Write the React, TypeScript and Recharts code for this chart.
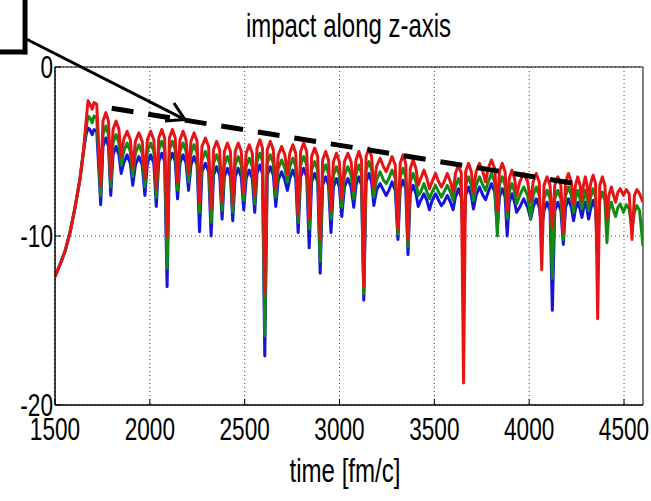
import React from 'react';
import { LineChart, Line, XAxis, YAxis, CartesianGrid, ReferenceLine, ReferenceArea } from 'recharts';

const chartTitle = 'impact along z-axis';
const xAxisLabel = 'time [fm/c]';
const xTicks = [1500, 2000, 2500, 3000, 3500, 4000, 4500];
const yTicks = [-20, -10, 0];

// time stamps: start-up, then per oscillation (shoulder, crest, shoulder, dip), then tail
const times = [
  1500, 1526, 1553, 1579, 1606, 1632, 1650, 1664, 1674, 1684, 1696, 1706, 1720, 1741,
  1753, 1768, 1782, 1794,
  1806, 1822, 1837, 1849,
  1862, 1880, 1897, 1910,
  1924, 1942, 1960, 1974,
  1987, 2004, 2021, 2034,
  2047, 2063, 2078, 2091,
  2103, 2119, 2134, 2146,
  2159, 2175, 2191, 2204,
  2217, 2233, 2249, 2262,
  2275, 2293, 2310, 2323,
  2336, 2352, 2368, 2381,
  2393, 2409, 2425, 2437,
  2450, 2466, 2482, 2495,
  2508, 2524, 2540, 2553,
  2565, 2580, 2594, 2606,
  2619, 2635, 2651, 2664,
  2677, 2695, 2712, 2725,
  2738, 2754, 2769, 2782,
  2795, 2811, 2827, 2840,
  2853, 2869, 2885, 2898,
  2911, 2927, 2942, 2955,
  2968, 2984, 2999, 3012,
  3026, 3044, 3061, 3075,
  3087, 3102, 3116, 3128,
  3140, 3155, 3169, 3181,
  3195, 3214, 3232, 3246,
  3260, 3277, 3294, 3308,
  3320, 3335, 3349, 3361,
  3373, 3388, 3403, 3415,
  3428, 3445, 3461, 3474,
  3488, 3506, 3523, 3537,
  3551, 3568, 3585, 3599,
  3611, 3627, 3642, 3654,
  3665, 3680, 3695, 3706,
  3720, 3738, 3756, 3770,
  3784, 3801, 3818, 3832,
  3843, 3858, 3873, 3884,
  3895, 3909, 3923, 3934,
  3950, 3971, 3992, 4008,
  4021, 4037, 4053, 4066,
  4078, 4094, 4110, 4122,
  4135, 4151, 4167, 4180,
  4192, 4207, 4222, 4234,
  4244, 4256, 4268, 4278,
  4286, 4296, 4305, 4313,
  4324, 4337, 4350, 4361,
  4372, 4386, 4399, 4410,
  4420, 4433, 4445, 4455,
  4468, 4480, 4497, 4512, 4527, 4542, 4555, 4568, 4582, 4600,
];

const blueValues: (number | null)[] = [
  -12.4, -11.7, -10.9, -9.8, -8.3, -6.6, -5.0, -4.0, -3.6, -3.7, -4.0, -3.7, -3.8, -8.15,
  -4.7, -4.2, -4.7, -7.6,
  -5.2, -4.7, -5.2, -6.3,
  -5.7, -5.2, -5.7, -7.0,
  -5.8, -5.3, -5.8, -7.6,
  -5.7, -5.2, -5.7, -8.25,
  -5.6, -5.1, -5.6, -13.0,
  -5.6, -5.1, -5.6, -7.8,
  -5.7, -5.2, -5.7, -7.3,
  -5.8, -5.3, -5.8, -9.75,
  -6.2, -5.7, -6.2, -10.0,
  -6.4, -5.9, -6.4, -9.0,
  -6.5, -6.0, -6.5, -9.1,
  -6.5, -6.0, -6.5, -8.45,
  -6.6, -6.1, -6.6, -8.6,
  -6.3, -5.8, -6.3, -17.1,
  -6.4, -5.9, -6.4, -8.25,
  -6.7, -6.2, -6.7, -7.3,
  -6.6, -6.1, -6.6, -9.8,
  -6.5, -6.0, -6.5, -10.7,
  -6.8, -6.3, -6.8, -12.2,
  -7.0, -6.5, -7.0, -9.8,
  -7.1, -6.6, -7.1, -8.85,
  -7.1, -6.6, -7.1, -8.3,
  -7.0, -6.5, -7.0, -13.8,
  -6.8, -6.3, -6.8, -8.2,
  -7.3, -6.9, -7.3, -7.6,
  -7.3, -6.8, -7.3, -10.2,
  -7.2, -6.7, -7.2, -11.1,
  -7.5, -7.0, -7.5, -8.25,
  -7.9, -7.5, -7.9, -8.45,
  -7.9, -7.5, -7.9, -8.2,
  -8.0, -7.6, -8.0, -8.45,
  -7.7, -7.2, -7.7, -10.7,
  -7.6, -7.1, -7.6, -8.4,
  -7.6, -7.1, -7.6, -7.85,
  -7.4, -6.9, -7.4, -9.5,
  -7.7, -7.2, -7.7, -10.0,
  -8.0, -7.5, -8.0, -8.6,
  -8.3, -7.8, -8.3, -9.0,
  -8.3, -7.8, -8.3, -9.5,
  -8.5, -8.0, -8.5, -14.4,
  -8.5, -8.0, -8.5, -10.5,
  -8.3, -7.8, -8.3, -9.1,
  -8.4, -8.0, -8.4, -8.9,
  -8.4, -8.0, -8.4, -9.0,
  -8.4, -7.9, -8.4, -11.4,
  null, null, null, null,
  null, null, null, null,
  null, null, null, null, null, null, null, null, null, null,
];

const greenValues = [
  -12.4, -11.7, -10.9, -9.8, -8.3, -6.6, -5.0, -3.6, -2.9, -3.0, -3.3, -2.9, -3.0, -7.6,
  -4.0, -3.5, -4.0, -7.1,
  -4.5, -4.0, -4.5, -5.8,
  -5.0, -4.5, -5.0, -6.5,
  -5.1, -4.6, -5.1, -7.1,
  -5.0, -4.5, -5.0, -7.7,
  -4.9, -4.4, -4.9, -11.9,
  -4.9, -4.4, -4.9, -7.3,
  -5.0, -4.5, -5.0, -6.8,
  -5.1, -4.6, -5.1, -8.6,
  -5.5, -5.0, -5.5, -9.2,
  -5.7, -5.2, -5.7, -8.5,
  -5.8, -5.3, -5.8, -8.6,
  -5.8, -5.3, -5.8, -7.9,
  -5.9, -5.4, -5.9, -8.1,
  -5.6, -5.1, -5.6, -15.9,
  -5.7, -5.2, -5.7, -7.7,
  -6.0, -5.5, -6.0, -6.8,
  -5.9, -5.4, -5.9, -9.2,
  -5.8, -5.3, -5.8, -9.6,
  -6.1, -5.6, -6.1, -11.5,
  -6.3, -5.8, -6.3, -9.0,
  -6.4, -5.9, -6.4, -8.3,
  -6.4, -5.9, -6.4, -7.8,
  -6.3, -5.8, -6.3, -13.4,
  -6.1, -5.6, -6.1, -7.7,
  -6.7, -6.2, -6.7, -6.9,
  -6.6, -6.1, -6.6, -9.9,
  -6.5, -6.0, -6.5, -10.6,
  -6.8, -6.3, -6.8, -7.6,
  -7.4, -6.9, -7.4, -7.8,
  -7.4, -7.0, -7.4, -7.7,
  -7.4, -7.0, -7.4, -7.9,
  -7.1, -6.6, -7.1, -10.2,
  -7.0, -6.5, -7.0, -7.9,
  -7.0, -6.5, -7.0, -7.3,
  -6.8, -6.3, -6.8, -10.0,
  -7.0, -6.5, -7.0, -9.0,
  -7.4, -6.9, -7.4, -8.1,
  -7.6, -7.1, -7.6, -9.0,
  -7.6, -7.1, -7.6, -9.5,
  -7.8, -7.3, -7.8, -12.5,
  -7.8, -7.3, -7.8, -10.2,
  -7.6, -7.1, -7.6, -8.6,
  -7.8, -7.3, -7.8, -8.4,
  -7.8, -7.3, -7.8, -8.5,
  -7.7, -7.2, -7.7, -11.0,
  -7.9, -7.4, -7.9, -10.4,
  -8.5, -8.0, -8.5, -8.85,
  -8.3, -8.1, -8.6, -8.15, -8.4, -9.6, -8.6, -8.2, -8.5, -10.6,
];

const redValues = [
  -12.4, -11.7, -10.9, -9.8, -8.3, -6.6, -5.0, -3.2, -2.0, -2.2, -2.5, -2.1, -2.2, -7.1,
  -3.2, -2.7, -3.2, -6.6,
  -3.7, -3.2, -3.7, -5.3,
  -4.3, -3.8, -4.3, -6.0,
  -4.4, -3.9, -4.4, -6.6,
  -4.3, -3.8, -4.3, -7.2,
  -4.2, -3.7, -4.2, -10.05,
  -4.2, -3.7, -4.2, -6.8,
  -4.3, -3.8, -4.3, -6.3,
  -4.4, -3.9, -4.4, -8.0,
  -4.7, -4.2, -4.7, -8.4,
  -4.9, -4.4, -4.9, -8.0,
  -5.0, -4.5, -5.0, -8.1,
  -5.0, -4.5, -5.0, -7.4,
  -5.1, -4.6, -5.1, -7.6,
  -4.8, -4.3, -4.8, -13.4,
  -4.9, -4.4, -4.9, -7.2,
  -5.2, -4.7, -5.2, -6.3,
  -5.1, -4.6, -5.1, -8.75,
  -5.0, -4.5, -5.0, -9.0,
  -5.3, -4.8, -5.3, -10.2,
  -5.5, -5.0, -5.5, -8.5,
  -5.6, -5.1, -5.6, -7.8,
  -5.6, -5.1, -5.6, -7.3,
  -5.5, -5.0, -5.5, -13.0,
  -5.3, -4.8, -5.3, -7.2,
  -5.9, -5.4, -5.9, -6.2,
  -5.8, -5.3, -5.8, -9.6,
  -5.7, -5.2, -5.7, -10.2,
  -6.0, -5.5, -6.0, -7.0,
  -6.6, -6.1, -6.6, -7.2,
  -6.8, -6.3, -6.8, -7.1,
  -6.8, -6.3, -6.8, -7.4,
  -6.3, -5.8, -6.3, -18.7,
  -6.2, -5.7, -6.2, -7.4,
  -6.2, -5.7, -6.2, -6.8,
  -6.0, -5.5, -6.0, -8.5,
  -6.2, -5.7, -6.2, -8.5,
  -6.6, -6.1, -6.6, -7.6,
  -6.8, -6.3, -6.8, -8.0,
  -6.8, -6.3, -6.8, -12.0,
  -7.0, -6.5, -7.0, -9.5,
  -7.0, -6.5, -7.0, -9.8,
  -6.8, -6.3, -6.8, -8.1,
  -7.0, -6.5, -7.0, -7.9,
  -7.0, -6.5, -7.0, -8.0,
  -6.9, -6.4, -6.9, -14.9,
  -7.0, -6.5, -7.0, -9.0,
  -7.6, -7.1, -7.6, -8.0,
  -7.4, -7.2, -7.6, -7.25, -7.5, -10.2, -7.6, -7.25, -7.5, -8.0,
];

// annotation segments in data coordinates (time, value)
const trendLine = [{ x: 1799, y: -2.44 }, { x: 4232, y: -6.88 }];
const arrowShaft = [{ x: 1351, y: 1.64 }, { x: 2185, y: -3.11 }];
const arrowWingUpper = [{ x: 2127, y: -2.13 }, { x: 2185, y: -3.11 }];
const arrowWingLower = [{ x: 2080, y: -3.2 }, { x: 2185, y: -3.11 }];
const boxVertical = [{ x: 1342, y: 4.3 }, { x: 1342, y: 0.75 }];
const boxHorizontal = [{ x: 1200, y: 0.89 }, { x: 1353, y: 0.89 }];

const data = times.map((t, i) => ({
  t,
  blue: blueValues[i],
  green: greenValues[i],
  red: redValues[i],
}));

const FONT = '"Liberation Sans", Arial, Helvetica, sans-serif';

const XTick = (props: any) => {
  const { x, y, payload } = props;
  return (
    <text
      transform={`translate(${x},${y + 41}) scale(0.73,1)`}
      textAnchor="middle"
      fontFamily={FONT}
      fontSize={31}
      fill="#000"
    >
      {payload.value}
    </text>
  );
};

const YTick = (props: any) => {
  const { x, y, payload } = props;
  return (
    <text
      transform={`translate(${x - 8},${y + 11}) scale(0.73,1)`}
      textAnchor="end"
      fontFamily={FONT}
      fontSize={31}
      fill="#000"
    >
      {payload.value}
    </text>
  );
};

const NoTick = () => <g />;

export default function App() {
  return (
    <div style={{ position: 'absolute', left: 0, top: 0, width: 651, height: 501, background: '#fff' }}>
      <LineChart
        width={651}
        height={501}
        data={data}
        margin={{ top: 67, right: 8, left: 0, bottom: 0 }}
      >
        <CartesianGrid
          stroke="#444"
          strokeDasharray="1 3"
          horizontalValues={yTicks}
          verticalValues={xTicks}
        />
        <XAxis
          dataKey="t"
          type="number"
          domain={[1500, 4600]}
          ticks={xTicks}
          interval={0}
          height={96}
          tickSize={-6}
          tickMargin={0}
          tickLine={{ stroke: '#000' }}
          axisLine={{ stroke: '#000', strokeWidth: 1 }}
          tick={<XTick />}
          allowDataOverflow
        />
        <XAxis
          xAxisId="top"
          orientation="top"
          dataKey="t"
          type="number"
          domain={[1500, 4600]}
          ticks={xTicks}
          interval={0}
          height={0}
          tickSize={-6}
          tickMargin={0}
          tickLine={{ stroke: '#000' }}
          axisLine={{ stroke: '#000', strokeWidth: 1 }}
          tick={<NoTick />}
          allowDataOverflow
        />
        <YAxis
          type="number"
          domain={[-20, 0]}
          ticks={yTicks}
          interval={0}
          width={55}
          tickSize={-6}
          tickMargin={0}
          tickLine={{ stroke: '#000' }}
          axisLine={{ stroke: '#000', strokeWidth: 1 }}
          tick={<YTick />}
          allowDataOverflow
        />
        <YAxis
          yAxisId="right"
          orientation="right"
          type="number"
          domain={[-20, 0]}
          ticks={yTicks}
          interval={0}
          width={0}
          tickSize={-6}
          tickMargin={0}
          tickLine={{ stroke: '#000' }}
          axisLine={{ stroke: '#000', strokeWidth: 1 }}
          tick={<NoTick />}
          allowDataOverflow
        />
        <ReferenceArea x1={1500} x2={4600} y1={-20} y2={0} fill="none" stroke="#000" strokeWidth={1} fillOpacity={0} />
        <Line type="linear" dataKey="blue" stroke="#1414dc" strokeWidth={3} strokeLinejoin="round" dot={false} isAnimationActive={false} connectNulls={false} />
        <Line type="linear" dataKey="green" stroke="#138a13" strokeWidth={3} strokeLinejoin="round" dot={false} isAnimationActive={false} connectNulls={false} />
        <Line type="linear" dataKey="red" stroke="#e61414" strokeWidth={3} strokeLinejoin="round" dot={false} isAnimationActive={false} connectNulls={false} />
        <ReferenceLine segment={trendLine} stroke="#000" strokeWidth={5} strokeDasharray="22 15" ifOverflow="visible" />
        <ReferenceLine segment={arrowShaft} stroke="#000" strokeWidth={3} ifOverflow="visible" />
        <ReferenceLine segment={arrowWingUpper} stroke="#000" strokeWidth={3} ifOverflow="visible" />
        <ReferenceLine segment={arrowWingLower} stroke="#000" strokeWidth={3} ifOverflow="visible" />
        <ReferenceLine segment={boxVertical} stroke="#000" strokeWidth={5} ifOverflow="visible" />
        <ReferenceLine segment={boxHorizontal} stroke="#000" strokeWidth={5} ifOverflow="visible" />
      </LineChart>
      <svg
        width={651}
        height={501}
        style={{ position: 'absolute', left: 0, top: 0, pointerEvents: 'none' }}
      >
        <text
          transform="translate(348.5,37) scale(0.727,1)"
          textAnchor="middle"
          fontFamily={FONT}
          fontSize={33}
          fill="#000"
        >
          {chartTitle}
        </text>
        <text
          transform="translate(345,482) scale(0.73,1)"
          textAnchor="middle"
          fontFamily={FONT}
          fontSize={33}
          fill="#000"
        >
          {xAxisLabel}
        </text>
      </svg>
    </div>
  );
}
